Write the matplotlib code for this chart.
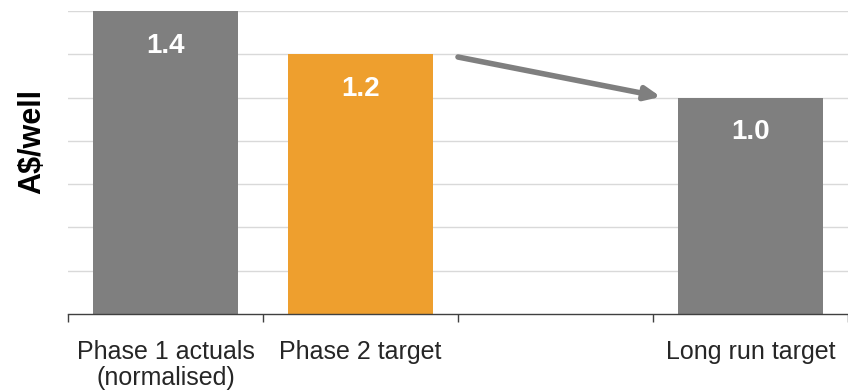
import matplotlib.pyplot as plt

plt.rcParams['font.family'] = ['Liberation Sans', 'DejaVu Sans']

# chart data
categories = ["Phase 1 actuals\n(normalised)", "Phase 2 target", "", "Long run target"]
values = [1.4, 1.2, None, 1.0]
labels = ["1.4", "1.2", "", "1.0"]
colors = ["#7F7F7F", "#EE9F2E", "#FFFFFF", "#7F7F7F"]

fig = plt.figure(figsize=(8.48, 3.9), dpi=100)
ax = fig.add_axes([0.0802, 0.195, 0.9198, 0.777])

# draw bars (skip the empty slot)
for i, (v, c) in enumerate(zip(values, colors)):
    if v is None:
        continue
    ax.bar(i, v, width=0.74, color=c, zorder=2)
    ax.annotate(labels[i], xy=(i, v), xytext=(0, -25), textcoords="offset points",
                ha="center", va="center", color="white", fontsize=20, fontweight="bold")

ax.set_xlim(-0.5, len(categories) - 0.5)
ax.set_ylim(0, 1.4)
ax.set_yticks([0.2 * k for k in range(1, 8)])
ax.set_yticklabels([])
ax.tick_params(axis="y", length=0)
ax.grid(axis="y", color="#D9D9D9", linewidth=1, zorder=0)

ax.set_xticks(range(len(categories)))
ax.set_xticklabels(categories, fontsize=18, color="#262626", linespacing=1.1)
ax.tick_params(axis="x", which="major", length=0, pad=19)
ax.set_xticks([k - 0.5 for k in range(len(categories) + 1)], minor=True)
ax.tick_params(axis="x", which="minor", length=6, width=1, color="#404040", direction="out")

for s in ["top", "right", "left"]:
    ax.spines[s].set_visible(False)
ax.spines["bottom"].set_color("#404040")
ax.spines["bottom"].set_linewidth(1)
ax.spines["bottom"].set_zorder(3)

ax.set_ylabel("A$/well", fontsize=22, fontweight="bold")
ax.yaxis.set_label_coords(-0.027, 0.568)

# arrow from Phase 2 to long run
ax.annotate("", xy=(2.54, 1.003), xytext=(1.5, 1.187),
            arrowprops=dict(arrowstyle="-|>,head_length=0.9,head_width=0.4",
                            color="#7F7F7F", lw=4, shrinkA=0, shrinkB=0))

fig.savefig("out.png", dpi=100)
